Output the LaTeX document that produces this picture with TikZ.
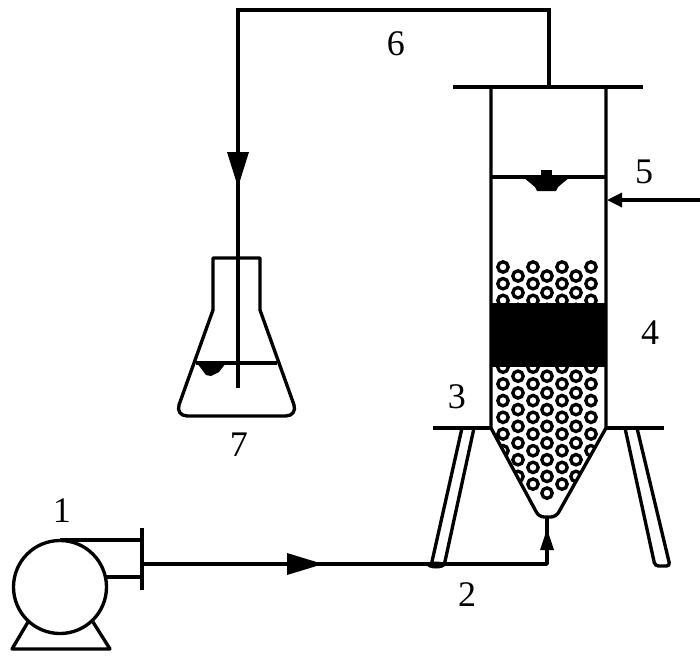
\documentclass[tikz,border=0pt]{standalone}
\usepackage{fontspec}
\setmainfont{Liberation Serif}
\usetikzlibrary{arrows.meta}
\tikzset{
  pipe/.style={line width=1.9pt},
  bead/.style={line width=1.9pt},
  numlabel/.style={font=\fontsize{20.5}{24}\selectfont,inner sep=0pt},
  tri/.style={-{Triangle[length=#1,width=0.44cm]},line width=1.9pt}
}
\begin{document}
\begin{tikzpicture}[x=0.02cm,y=-0.02cm]
    \useasboundingbox (0,0) rectangle (700,657);

    % pump
    \coordinate (pumpcentre) at (60,587);
    \draw[pipe] (pumpcentre) circle (46.5);
    \draw[pipe] (60,540) -- (142,540);
    \draw[pipe] (106,577) -- (142,577);
    \draw[line width=2.4pt] (142,528) -- (142,590);
    \draw[pipe,line join=round] (28,622) -- (12,649) -- (110,649) -- (93,622);

    % feed line
    \coordinate (feedstart) at (142,564);
    \coordinate (feedarrow) at (323,564);
    \coordinate (feedcorner) at (547,564);
    \coordinate (inlet) at (547,517);
    \draw[pipe,line join=round] (feedstart) -- (feedcorner) -- (inlet);
    \fill (287,553) -- (323,564) -- (287,575) -- cycle;
    \fill (540,550) -- (547,529) -- (554,550) -- cycle;
    \fill (436,565) ellipse (9 and 3.5);

    % reactor beads
    \begin{scope}
      \clip (491,258) -- (606,258) -- (606,428) -- (556,517) -- (539,517) -- (491,428) -- cycle;
      \foreach \cx in {503,533,562,591}
        \foreach \n in {0,...,13}
          \draw[bead] (\cx,267+16.7*\n) circle (5.2);
      \foreach \cx in {518,547,576}
        \foreach \n in {0,...,13}
          \draw[bead] (\cx,276+16.7*\n) circle (5.2);
    \end{scope}
    \fill (491,303) rectangle (606,367);

    % reactor walls
    \draw[pipe,line join=round] (491,87) -- (491,428) [rounded corners=3pt] -- (539,517) -- (556,517) [sharp corners] -- (606,428) -- (606,87);
    \draw[line width=2.2pt] (453,87) -- (643,87);
    \draw[pipe] (433,428) -- (491,428);
    \draw[pipe] (606,428) -- (664,428);

    % legs
    \draw[pipe,rounded corners=2pt] (462,428) -- (431,566) -- (444,566) -- (474,428);
    \draw[pipe,rounded corners=2pt] (625,428) -- (655,566) -- (670,566) -- (637,428);

    % liquid level and float
    \draw[pipe] (491,177) -- (606,177);
    \fill (541,170) rectangle (552,178);
    \fill (523,177) -- (570,177) -- (558,187) -- (556,191) -- (537,191) -- (535,187) -- cycle;

    % arrow on the side
    \coordinate (sidestart) at (700,200);
    \coordinate (sidewall) at (607,200);
    \draw[-{Triangle[length=0.3cm,width=0.28cm]},pipe] (sidestart) -- (sidewall);

    % return line
    \coordinate (outlet) at (549,87);
    \coordinate (retcornerA) at (549,10);
    \coordinate (retcornerB) at (238,10);
    \coordinate (retend) at (238,388);
    \draw[pipe,line join=miter] (outlet) -- (retcornerA) -- (retcornerB) -- (retend);
    \fill (227,152) -- (249,152) -- (238,187) -- cycle;

    % flask
    \draw[pipe,line join=round] (213,310) -- (213,258) -- (260,258) -- (260,310) [rounded corners=7pt] -- (298,416) -- (175,416) [sharp corners] -- cycle;
    \draw[pipe] (196,363) -- (277,363);
    \fill (197,363) -- (226,363) -- (219,372) -- (211,376) -- (206,375) -- cycle;

    % labels
    \node[numlabel] (num1) at (62,511) {1};
    \node[numlabel] (num2) at (467,595) {2};
    \node[numlabel] (num3) at (457,397) {3};
    \node[numlabel] (num4) at (650,333) {4};
    \node[numlabel] (num5) at (644,172) {5};
    \node[numlabel] (num6) at (396,44) {6};
    \node[numlabel] (num7) at (239,445) {7};
\end{tikzpicture}
\end{document}
